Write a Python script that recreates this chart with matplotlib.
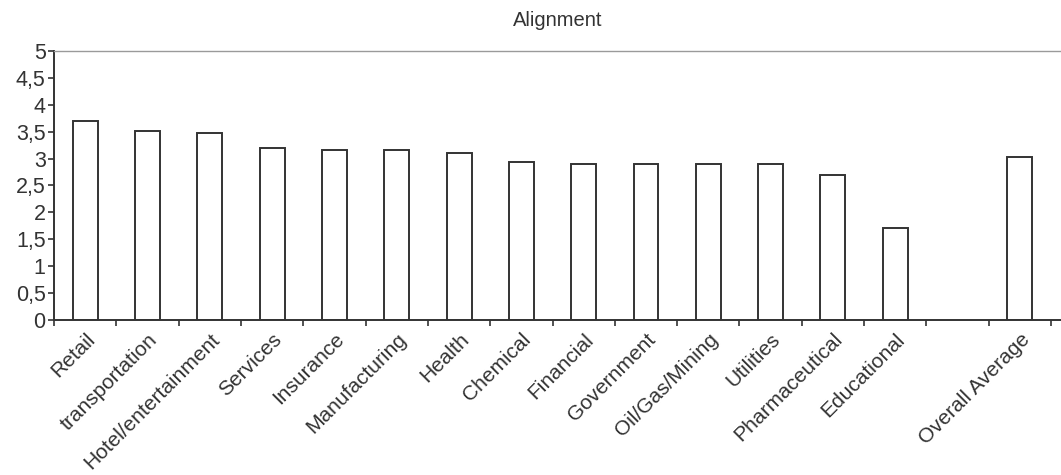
import matplotlib.pyplot as plt
import numpy as np
from matplotlib.ticker import FuncFormatter, FixedLocator

plt.rcParams['font.family'] = ['Liberation Sans', 'DejaVu Sans']

# industry scores for alignment, plus a blank slot before the overall average
sectors = ['Retail', 'transportation', 'Hotel/entertainment', 'Services',
           'Insurance', 'Manufacturing', 'Health', 'Chemical', 'Financial',
           'Government', 'Oil/Gas/Mining', 'Utilities', 'Pharmaceutical',
           'Educational', '', 'Overall Average']
scores = [3.70, 3.52, 3.47, 3.20, 3.15, 3.15, 3.11, 2.94, 2.89,
          2.89, 2.89, 2.89, 2.69, 1.71, np.nan, 3.03]

ink = '#333333'

fig = plt.figure(figsize=(10.61, 4.75), dpi=100)
ax = fig.add_axes([0.0509, 0.326, 0.9491, 0.567])

x = np.arange(len(sectors))
ax.bar(x, scores, width=0.4, color='white', edgecolor=ink, linewidth=1.4)

ax.set_xlim(-0.5, 15.66)
ax.set_ylim(0, 5)
ax.set_yticks(np.arange(0, 5.01, 0.5))
ax.yaxis.set_major_formatter(FuncFormatter(lambda v, _: f'{v:g}'.replace('.', ',')))

# category labels on centres, tick marks on the slot boundaries
ax.set_xticks(x)
ax.set_xticklabels(sectors, rotation=45, ha='right', rotation_mode='anchor')
ax.xaxis.set_minor_locator(FixedLocator(np.arange(-0.5, 16, 1.0)))
ax.tick_params(axis='x', which='major', length=0, pad=7, labelsize=15, colors=ink)
ax.tick_params(axis='x', which='minor', length=4, width=1.2, color=ink)
ax.tick_params(axis='y', length=4, width=1.2, color=ink, labelsize=15.5, labelcolor=ink, pad=2)

for side in ['left', 'bottom']:
    ax.spines[side].set_color(ink)
    ax.spines[side].set_linewidth(1.4)
ax.spines['right'].set_visible(False)
ax.spines['top'].set_color('#9a9a9a')
ax.spines['top'].set_linewidth(1.0)

ax.set_title('Alignment', fontsize=14.5, color=ink, pad=18)

plt.savefig('out.png', dpi=100)
